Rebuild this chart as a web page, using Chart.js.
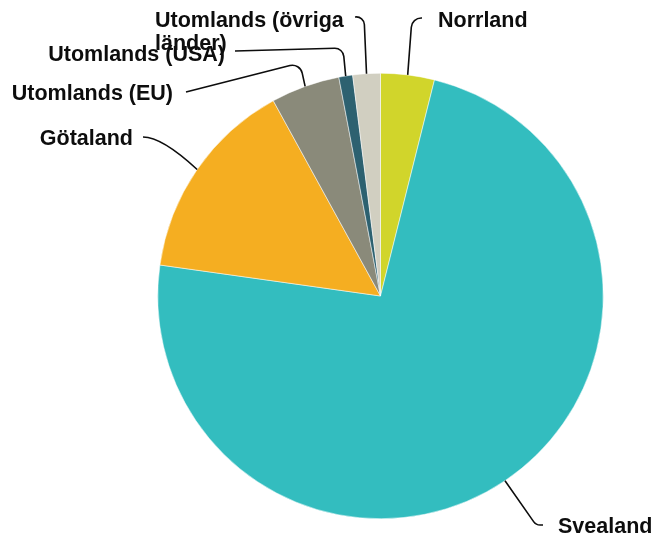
<!DOCTYPE html>
<html>
<head>
<meta charset="utf-8">
<script src="https://cdn.jsdelivr.net/npm/chart.js@4/dist/chart.umd.min.js"></script>
<style>
  html, body { margin: 0; padding: 0; background: #fff; }
  #wrap { width: 655px; height: 539px; position: relative; }
</style>
</head>
<body>
<div id="wrap"><canvas id="pie"></canvas></div>
<script>
// data (clockwise from 12 o'clock)
const regions = ['Norrland', 'Svealand', 'Götaland', 'Utomlands (EU)', 'Utomlands (USA)', 'Utomlands (övriga länder)'];
const shares = [3.9, 73.4, 14.8, 5.0, 1.0, 2.0];
const colors = ['#d1d52b', '#33bdbf', '#f5ae21', '#8a8a7a', '#2d6170', '#d1cfc1'];

// label placement: text lines, text anchor, elbow + end of connector
const labelLayout = [
  { lines: ['Norrland'], x: 438, y: 27, align: 'left', elbow: [412, 18], end: [422, 18], r: 10 },
  { lines: ['Svealand'], x: 558, y: 533, align: 'left', elbow: [536, 525], end: [543, 525], r: 8 },
  { lines: ['Götaland'], x: 133, y: 145, align: 'right', elbow: [162, 137], end: [143, 137], smooth: true },
  { lines: ['Utomlands (EU)'], x: 173, y: 100, align: 'right', elbow: [300, 63], end: [186, 92], r: 10 },
  { lines: ['Utomlands (USA)'], x: 225, y: 61, align: 'right', elbow: [343, 48], end: [235, 51], r: 9 },
  { lines: ['Utomlands (övriga', 'länder)'], x: 155, y: 27, align: 'left', lineH: 23, elbow: [364, 16], end: [355, 17], r: 8 }
];

// draws connectors and labels outside the pie
const outerLabels = {
  id: 'outerLabels',
  afterDatasetsDraw(chart) {
    const ctx = chart.ctx;
    const arcs = chart.getDatasetMeta(0).data;
    ctx.save();
    ctx.strokeStyle = '#0d0d0d';
    ctx.lineWidth = 1.6;
    ctx.fillStyle = '#0d0d0d';
    ctx.font = 'bold 21.5px "Liberation Sans", Arial, sans-serif';
    ctx.textBaseline = 'alphabetic';
    arcs.forEach((arc, i) => {
      const L = labelLayout[i];
      const mid = (arc.startAngle + arc.endAngle) / 2;
      const px = arc.x + Math.cos(mid) * arc.outerRadius;
      const py = arc.y + Math.sin(mid) * arc.outerRadius;
      ctx.beginPath();
      ctx.moveTo(px, py);
      if (L.smooth) {
        ctx.quadraticCurveTo(L.elbow[0], L.elbow[1], L.end[0], L.end[1]);
      } else {
        ctx.arcTo(L.elbow[0], L.elbow[1], L.end[0], L.end[1], L.r);
        ctx.lineTo(L.end[0], L.end[1]);
      }
      ctx.stroke();
      ctx.textAlign = L.align;
      L.lines.forEach((t, j) => ctx.fillText(t, L.x, L.y + j * (L.lineH || 0)));
    });
    ctx.restore();
  }
};

new Chart(document.getElementById('pie'), {
  type: 'pie',
  data: {
    labels: regions,
    datasets: [{
      data: shares,
      backgroundColor: colors,
      borderColor: '#ffffff',
      borderWidth: 0.5
    }]
  },
  options: {
    responsive: true,
    maintainAspectRatio: false,
    animation: false,
    layout: { padding: { top: 73, bottom: 20, left: 157.5, right: 51.5 } },
    plugins: { legend: { display: false }, tooltip: { enabled: false } }
  },
  plugins: [outerLabels]
});
</script>
</body>
</html>
